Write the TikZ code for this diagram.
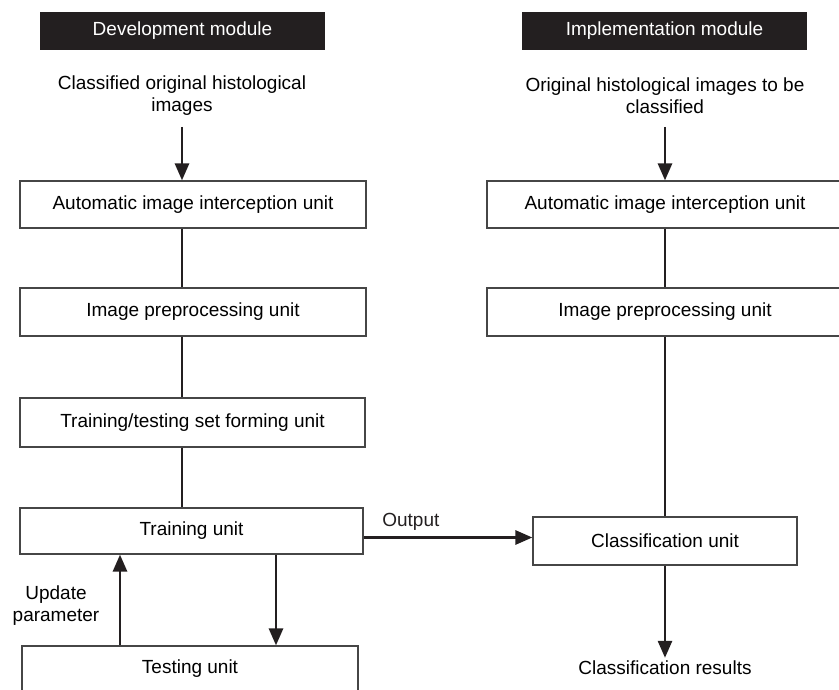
\documentclass[tikz,border=0pt]{standalone}
\usepackage{fontspec}
\setmainfont{Liberation Sans}
\usepackage{tikz}
\usetikzlibrary{arrows.meta,positioning,calc}
\usepackage{xcolor}
\definecolor{lineblack}{RGB}{35,31,32}
\definecolor{boxgray}{RGB}{70,70,70}

\begin{document}
\begin{tikzpicture}[
    x=1pt, y=-1pt,
    font=\fontsize{19}{22}\selectfont,
    header/.style={fill=lineblack, text=white, minimum width=285pt, minimum height=38pt, inner sep=0pt},
    unit/.style={draw=boxgray, line width=1.2pt, fill=white, minimum height=47pt, inner sep=0pt},
    plain/.style={align=center, inner sep=0pt},
    link/.style={lineblack, line width=2.8pt},
    arrow_edge/.style={-{Triangle[length=17pt, width=14pt]}, lineblack, line width=2.8pt}
]
\useasboundingbox (0,0) rectangle (839,690);
\clip (0,0) rectangle (839,690);

% Development module (left)
\node[header] (devhead) at (182.5, 31) {Development module};
\node[plain] (devin) at (182, 96) {Classified original histological\\images};

\node[unit, minimum width=346pt] (dauto) at (193, 204.5) {Automatic image interception unit};
\node[unit, minimum width=346pt, minimum height=48pt] (dpre) at (193, 312) {Image preprocessing unit};
\node[unit, minimum width=345pt, minimum height=49pt] (dset) at (192.5, 422.5) {Training/testing set forming unit};
\node[unit, minimum width=343pt, minimum height=46pt] (dtrain) at (191.5, 531) {Training unit};
\node[unit, minimum width=336pt, minimum height=46pt] (dtest) at (190, 669) {Testing unit};

\coordinate (din) at (182, 127);
\draw[arrow_edge] (din) -- (din |- dauto.north);
\draw[link] (dauto.south -| din) -- (dpre.north -| din);
\draw[link] (dpre.south -| din) -- (dset.north -| din);
\draw[link] (dset.south -| din) -- (dtrain.north -| din);

\coordinate (dtdown) at (276, 554);
\coordinate (dtup) at (120, 646);
\draw[arrow_edge] (dtrain.south -| dtdown) -- (dtest.north -| dtdown);
\draw[arrow_edge] (dtest.north -| dtup) -- (dtrain.south -| dtup);
\node[plain] (upd) at (56, 606) {Update\\parameter};

% Implementation module (right)
\node[header] (imphead) at (664.5, 31) {Implementation module};
\node[plain] (impin) at (665, 96) {Original histological images to be\\classified};

\node[unit, minimum width=356pt] (iauto) at (665, 204.5) {Automatic image interception unit};
\node[unit, minimum width=356pt, minimum height=48pt] (ipre) at (665, 312) {Image preprocessing unit};
\node[unit, minimum width=264pt, minimum height=48pt] (iclass) at (665, 541) {Classification unit};
\node[plain] (ires) at (665, 668) {Classification results};

\draw[arrow_edge] (impin.south |- din) -- (iauto.north);
\draw[link] (iauto) -- (ipre);
\draw[link] (ipre) -- (iclass);
\draw[arrow_edge, shorten >=3pt] (iclass.south) -- (ires.north);

% Output link between the modules
\coordinate (outy) at (0, 537.5);
\draw[arrow_edge] (dtrain.east |- outy) -- (iclass.west |- outy)
    node[pos=0.28, above=6pt, plain] (outlbl) {Output};

\end{tikzpicture}
\end{document}
